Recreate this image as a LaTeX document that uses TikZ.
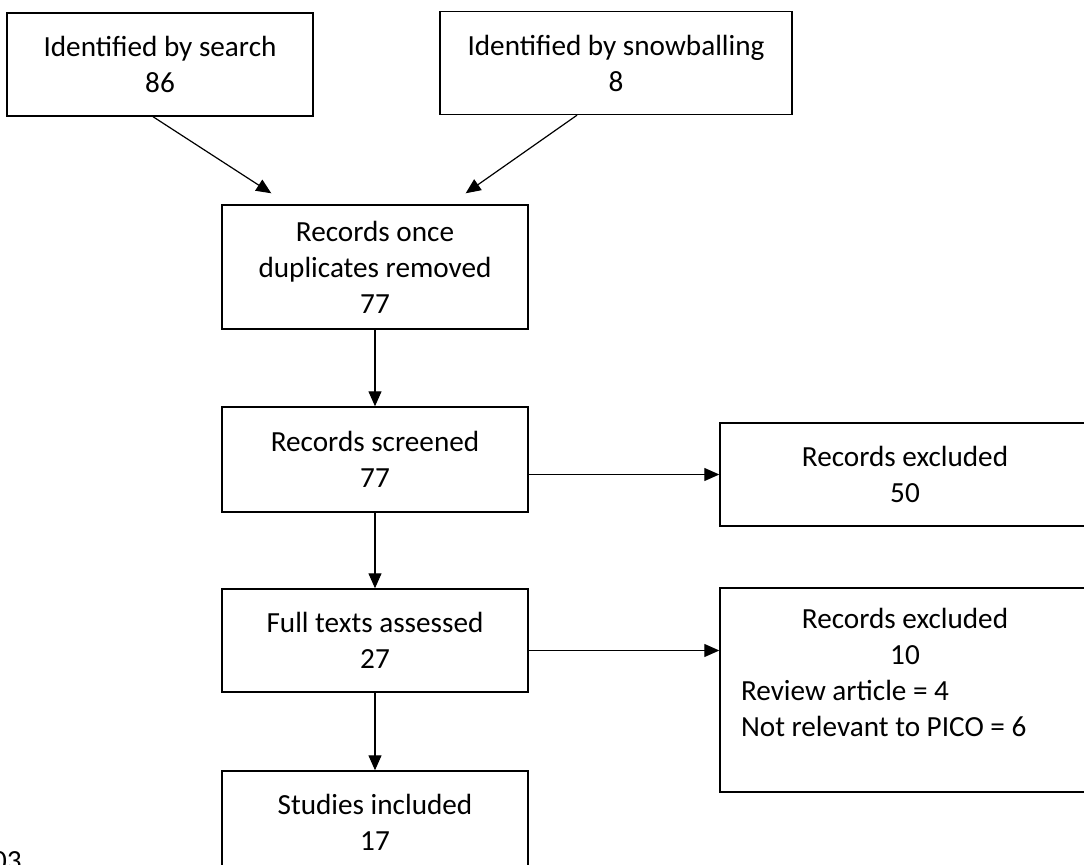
\documentclass[tikz,border=0pt]{standalone}
\usepackage{fontspec}
\setmainfont{Carlito}
\usepackage{tikz}
\usetikzlibrary{arrows.meta}

\begin{document}
\begin{tikzpicture}[x=0.5pt, y=-0.5pt, font=\fontsize{14.6}{18}\selectfont,
  box/.style={draw=black, line width=0.7pt, align=center, inner sep=0pt, minimum width=153pt, minimum height=51.5pt},
  arr/.style={draw=black, line width=0.6pt, -{Triangle[length=7.5pt,width=6.5pt]}}]
\useasboundingbox (0,0) rectangle (1084,865);
\node[box] (search) at (160,64.5) {Identified by search\\86};
\node[box, minimum width=176pt] (snow) at (616,63) {Identified by snowballing\\8};
\node[box, minimum height=62pt] (dedup) at (375,267) {Records once\\duplicates removed\\77};
\node[box, minimum height=52.5pt] (screen) at (375,459.5) {Records screened\\77};
\node[box, minimum width=185pt] (excl1) at (905,474.5) {Records excluded\\50};
\node[box] (full) at (375,640.5) {Full texts assessed\\27};
\node[box, align=left, minimum width=185pt, minimum height=102pt] (excl2) at (905,690) {\makebox[164pt][c]{Records excluded}\\\makebox[164pt][c]{10}\\\makebox[164pt][l]{Review article = 4}\\\makebox[164pt][l]{Not relevant to PICO = 6}\\~};
\node[box] (incl) at (375,822.5) {Studies included\\17};
\node[anchor=base east, inner sep=0pt] (pg) at (22,871) {03};

\coordinate (tipA) at ([shift={(50,-11)}]dedup.north west);
\coordinate (tipB) at ([shift={(-63,-11)}]dedup.north east);
\coordinate (fE) at ([yshift=-5pt]full.east);
\path ([xshift=-3.5pt]search.south) edge[arr] (tipA);
\path ([xshift=-19.5pt]snow.south) edge[arr] (tipB);
\path (dedup) edge[arr] (screen) (screen) edge[arr] (full) (full) edge[arr] (incl);
\path (screen.east |- excl1.west) edge[arr] (excl1.west);
\path (fE) edge[arr] (fE -| excl2.west);
\end{tikzpicture}
\end{document}
